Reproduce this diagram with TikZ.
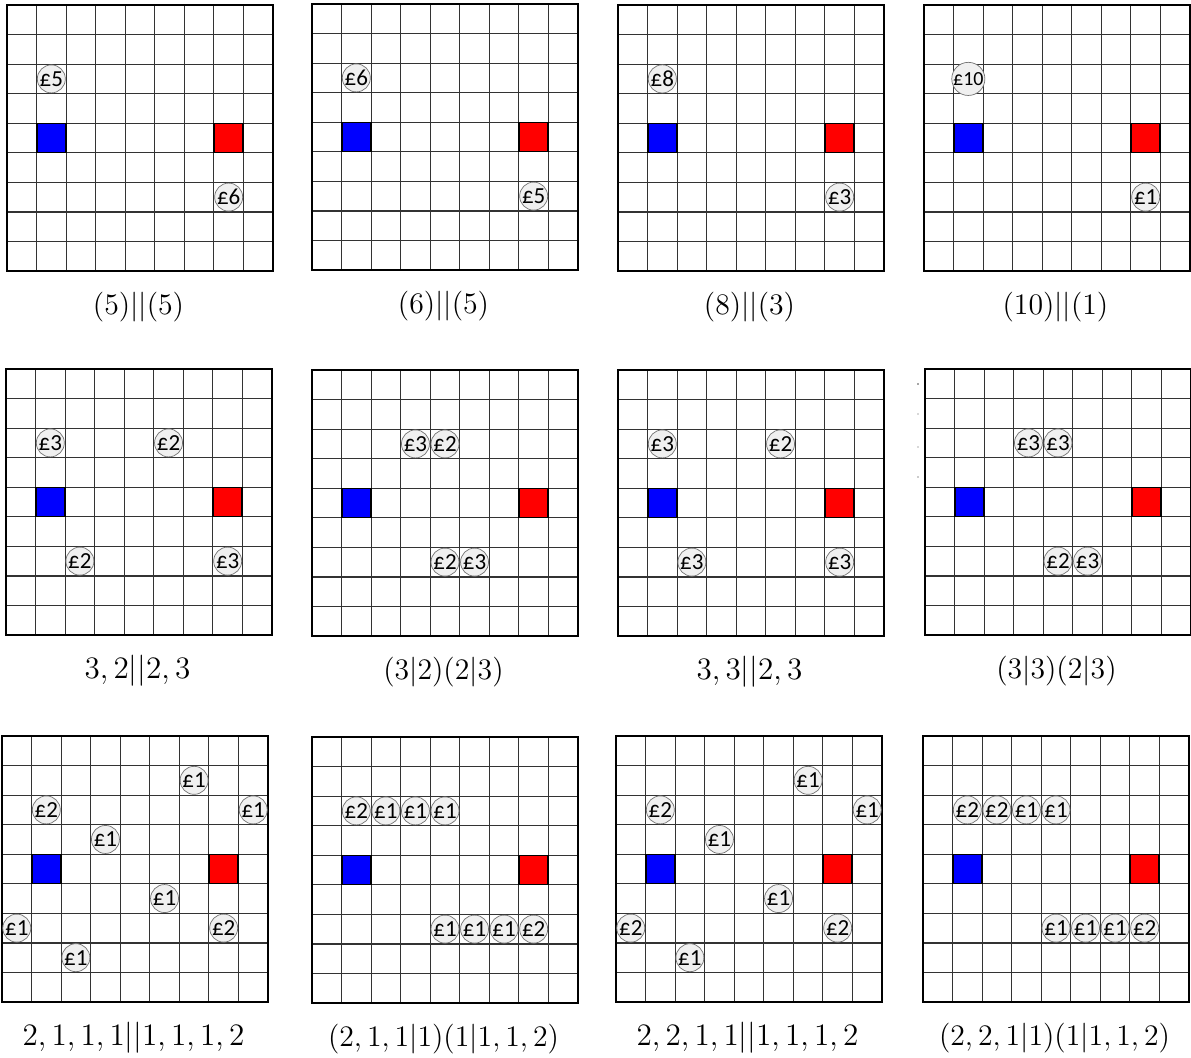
\RequirePackage{fix-cm}
\documentclass[tikz,border=0pt]{standalone}
\usepackage{fontspec}
\newfontfamily\coinfont{Carlito}
\begin{document}
\begin{tikzpicture}[x=0.5pt,y=-0.5pt]
\tikzset{
  gridline/.style={draw=black!80,line width=0.6pt},
  frame/.style={draw=black,line width=1.4pt},
  bluesq/.style={draw=black,line width=0.85pt,fill={rgb,255:red,0;green,0;blue,255},minimum size=14.6pt,inner sep=0pt,outer sep=0pt},
  redsq/.style={draw=black,line width=0.85pt,fill={rgb,255:red,255;green,0;blue,0},minimum size=14.6pt,inner sep=0pt,outer sep=0pt},
  coin/.style={circle,draw=black!55,line width=0.35pt,fill=black!6,minimum size=14pt,inner sep=0pt,font=\coinfont\fontsize{11.5}{13}\selectfont},
  smallcoin/.style={coin,font=\coinfont\fontsize{10}{11}\selectfont},
  lab/.style={anchor=base,inner sep=0pt,font=\fontsize{14.9}{18}\selectfont},
  labw/.style={lab,font=\fontsize{15.6}{18}\selectfont},
  panel/.style={x=14.778pt,y=-14.778pt}
}
\newcommand\boardbase[1]{%
  \foreach \i in {1,...,8}{\draw[gridline] (\i,0) -- (\i,9); \draw[gridline] (0,\i) -- (9,\i);}
  \draw[frame] (0,0) rectangle (9,9);
  \node[bluesq] (#1blue) at (1.5,4.5) {};
  \node[redsq] (#1red) at (7.5,4.5) {};
}
\newcommand\coinat[4]{\node[coin] (#1) at (#2+0.5,#3+0.5) {£#4};}
\newcommand\boardlabel[3][lab]{\node[#1] (#2lab) at (4.45,10.47) {#3};}
\useasboundingbox[fill=white] (0,0) rectangle (1191,1057);
% Row 1
\begin{scope}[shift={(7,5)},panel]
  \boardbase{pa}
  \coinat{pa1}{1}{2}{5}\coinat{pa2}{7}{6}{6}
  \boardlabel{pa}{$(5)||(5)$}
\end{scope}
\begin{scope}[shift={(312,4)},panel]
  \boardbase{pb}
  \coinat{pb1}{1}{2}{6}\coinat{pb2}{7}{6}{5}
  \boardlabel{pb}{$(6)||(5)$}
\end{scope}
\begin{scope}[shift={(618,5)},panel]
  \boardbase{pc}
  \coinat{pc1}{1}{2}{8}\coinat{pc2}{7}{6}{3}
  \boardlabel{pc}{$(8)||(3)$}
\end{scope}
\begin{scope}[shift={(924,5)},panel]
  \boardbase{pd}
  \node[smallcoin] (pd1) at (1.5,2.5) {£10};
  \coinat{pd2}{7}{6}{1}
  \boardlabel{pd}{$(10)||(1)$}
\end{scope}
% Row 2
\begin{scope}[shift={(6,369)},panel]
  \boardbase{pe}
  \coinat{pe1}{1}{2}{3}\coinat{pe2}{5}{2}{2}\coinat{pe3}{2}{6}{2}\coinat{pe4}{7}{6}{3}
  \boardlabel[labw]{pe}{$3,2||2,3$}
\end{scope}
\begin{scope}[shift={(312,370)},panel]
  \boardbase{pf}
  \coinat{pf1}{3}{2}{3}\coinat{pf2}{4}{2}{2}\coinat{pf3}{4}{6}{2}\coinat{pf4}{5}{6}{3}
  \boardlabel{pf}{$(3|2)(2|3)$}
\end{scope}
\begin{scope}[shift={(618,370)},panel]
  \boardbase{pg}
  \coinat{pg1}{1}{2}{3}\coinat{pg2}{5}{2}{2}\coinat{pg3}{2}{6}{3}\coinat{pg4}{7}{6}{3}
  \boardlabel[labw]{pg}{$3,3||2,3$}
\end{scope}
\begin{scope}[shift={(925,369)},panel]
  \boardbase{ph}
  \coinat{ph1}{3}{2}{3}\coinat{ph2}{4}{2}{3}\coinat{ph3}{4}{6}{2}\coinat{ph4}{5}{6}{3}
  \boardlabel{ph}{$(3|3)(2|3)$}
\end{scope}
\foreach \yy/\cc in {384/black!70,414/black!30,447/black!30,477/black!40}{\fill[\cc] (918,\yy) circle (0.8);}
% Row 3
\begin{scope}[shift={(2,736)},panel]
  \boardbase{pi}
  \coinat{pi1}{6}{1}{1}\coinat{pi2}{1}{2}{2}\coinat{pi3}{8}{2}{1}\coinat{pi4}{3}{3}{1}
  \coinat{pi5}{5}{5}{1}\coinat{pi6}{0}{6}{1}\coinat{pi7}{7}{6}{2}\coinat{pi8}{2}{7}{1}
  \boardlabel[labw]{pi}{$2,1,1,1||1,1,1,2$}
\end{scope}
\begin{scope}[shift={(312,737)},panel]
  \boardbase{pj}
  \coinat{pj1}{1}{2}{2}\coinat{pj2}{2}{2}{1}\coinat{pj3}{3}{2}{1}\coinat{pj4}{4}{2}{1}
  \coinat{pj5}{4}{6}{1}\coinat{pj6}{5}{6}{1}\coinat{pj7}{6}{6}{1}\coinat{pj8}{7}{6}{2}
  \boardlabel{pj}{$(2,1,1|1)(1|1,1,2)$}
\end{scope}
\begin{scope}[shift={(616,736)},panel]
  \boardbase{pk}
  \coinat{pk1}{6}{1}{1}\coinat{pk2}{1}{2}{2}\coinat{pk3}{8}{2}{1}\coinat{pk4}{3}{3}{1}
  \coinat{pk5}{5}{5}{1}\coinat{pk6}{0}{6}{2}\coinat{pk7}{7}{6}{2}\coinat{pk8}{2}{7}{1}
  \boardlabel[labw]{pk}{$2,2,1,1||1,1,1,2$}
\end{scope}
\begin{scope}[shift={(923,736)},panel]
  \boardbase{pl}
  \coinat{pl1}{1}{2}{2}\coinat{pl2}{2}{2}{2}\coinat{pl3}{3}{2}{1}\coinat{pl4}{4}{2}{1}
  \coinat{pl5}{4}{6}{1}\coinat{pl6}{5}{6}{1}\coinat{pl7}{6}{6}{1}\coinat{pl8}{7}{6}{2}
  \boardlabel{pl}{$(2,2,1|1)(1|1,1,2)$}
\end{scope}
\end{tikzpicture}
\end{document}
